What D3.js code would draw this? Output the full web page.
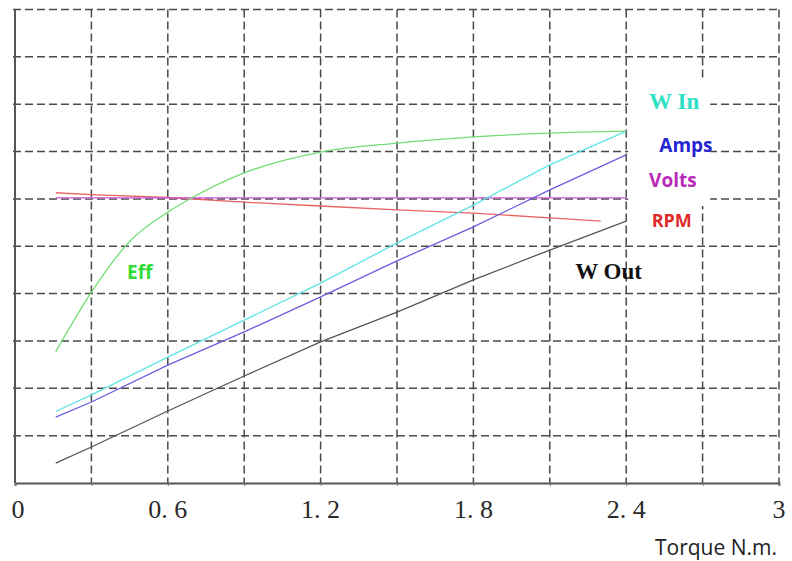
<!DOCTYPE html>
<html>
<head>
<meta charset="utf-8">
<script src="https://cdn.jsdelivr.net/npm/d3@7"></script>
<style>
  body { margin: 0; background: #fff; }
  svg { display: block; }
  .grid line { stroke: #4a4a4a; stroke-width: 1.5; stroke-dasharray: 8 4; }
  .tick-label { font-family: 'Liberation Serif', serif; font-size: 26px; fill: #2a2a2a; white-space: pre; }
  .series { fill: none; stroke-width: 1.3; }
</style>
</head>
<body>
<svg width="792" height="561"></svg>
<script>
// torque values (N.m) and curves in grid units (no y labels on the chart)
const torque = [0.16, 0.3, 0.6, 0.9, 1.2, 1.5, 1.8, 2.1, 2.4];
const wIn = [1.51, 1.86, 2.66, 3.44, 4.22, 5.07, 5.87, 6.72, 7.43];
const amps = [1.39, 1.71, 2.49, 3.19, 3.93, 4.69, 5.41, 6.19, 6.93];
const volts = [6.02, 6.02, 6.02, 6.02, 6.02, 6.02, 6.02, 6.02, 6.02];
const wOut = [0.42, 0.76, 1.52, 2.26, 2.98, 3.61, 4.29, 4.92, 5.53];
const rpmTorque = [0.16, 0.3, 0.6, 0.9, 1.2, 1.5, 1.8, 2.1, 2.3];
const rpm = [6.13, 6.09, 6.03, 5.93, 5.85, 5.77, 5.7, 5.6, 5.53];
const effTorque = [0.16, 0.3, 0.45, 0.6, 0.7, 0.9, 1.2, 1.5, 1.8, 2.1, 2.4];
const eff = [2.77, 4.03, 5.1, 5.72, 6.04, 6.55, 6.99, 7.18, 7.31, 7.39, 7.43];
const xTicks = [0, 0.6, 1.2, 1.8, 2.4, 3];
const xTickLabels = ['0', '0. 6', '1. 2', '1. 8', '2. 4', '3'];

const margin = { top: 9.5, right: 13, bottom: 78, left: 15 },
  width = 792 - margin.left - margin.right,
  height = 561 - margin.top - margin.bottom;

const svg = d3
  .select('svg')
  .append('g')
  .attr('transform', 'translate(' + margin.left + ',' + margin.top + ')');

const xScale = d3.scaleLinear().domain([0, 3]).range([0, width]);
const yScale = d3.scaleLinear().domain([0, 10]).range([height, 0]);

// dashed grid
svg
  .append('g')
  .attr('class', 'grid')
  .selectAll('line')
  .data(d3.range(1, 11).map(i => i * 0.3))
  .enter()
  .append('line')
  .attr('x1', d => xScale(d))
  .attr('x2', d => xScale(d))
  .attr('y1', 0)
  .attr('y2', height);

svg
  .append('g')
  .attr('class', 'grid')
  .selectAll('line')
  .data(d3.range(1, 11))
  .enter()
  .append('line')
  .attr('x1', -2)
  .attr('x2', width)
  .attr('y1', d => yScale(d))
  .attr('y2', d => yScale(d));

// white patch behind the right-hand labels
svg
  .append('rect')
  .attr('x', xScale(2.4) + 2)
  .attr('y', yScale(8.5))
  .attr('width', xScale(2.73) - xScale(2.4) - 2)
  .attr('height', yScale(5.85) - yScale(8.5))
  .attr('fill', '#fff');

// axes
svg
  .append('g')
  .attr('transform', 'translate(0,' + height + ')')
  .call(
    d3
      .axisBottom(xScale)
      .tickValues(d3.range(0, 11).map(i => i * 0.3))
      .tickSize(3)
      .tickFormat('')
  )
  .call(g => g.select('.domain').attr('stroke', '#555').attr('stroke-width', 2))
  .call(g => g.selectAll('.tick line').attr('stroke', '#777'));

svg
  .append('line')
  .attr('x1', 0)
  .attr('x2', 0)
  .attr('y1', 0)
  .attr('y2', height)
  .attr('stroke', '#555')
  .attr('stroke-width', 2);

svg
  .selectAll('.tick-label')
  .data(xTicks)
  .enter()
  .append('text')
  .attr('class', 'tick-label')
  .attr('x', (d, i) => xScale(d) + (i === 0 ? 3 : 0))
  .attr('y', height + 35)
  .attr('text-anchor', 'middle')
  .text((d, i) => xTickLabels[i]);

svg
  .append('text')
  .attr('x', width - 2)
  .attr('y', height + 72)
  .attr('text-anchor', 'end')
  .style('font-family', "'Open Sans', sans-serif")
  .style('font-size', '21px')
  .style('fill', '#222')
  .text('Torque N.m.');

// series
const line = (xs, ys, curve) =>
  d3
    .line()
    .x((d, i) => xScale(xs[i]))
    .y(d => yScale(d))
    .curve(curve || d3.curveLinear)(ys);

const series = [
  { xs: torque, ys: wOut, color: '#555' },
  { xs: rpmTorque, ys: rpm, color: '#e86464' },
  { xs: torque, ys: volts, color: '#cc55dd' },
  { xs: torque, ys: amps, color: '#6a5ee0' },
  { xs: torque, ys: wIn, color: '#5ee4e4' },
  { xs: effTorque, ys: eff, color: '#74dc74', curve: d3.curveMonotoneX }
];

svg
  .selectAll('.series')
  .data(series)
  .enter()
  .append('path')
  .attr('class', 'series')
  .attr('stroke', d => d.color)
  .attr('d', d => line(d.xs, d.ys, d.curve));

// labels
const labels = [
  { text: 'W In', x: 2.49, y: 7.9, color: '#2ee0c4', font: "'Liberation Serif', serif", size: 23 },
  { text: 'Amps', x: 2.53, y: 7.0, color: '#2424d0', font: "'Open Sans', sans-serif", size: 19 },
  { text: 'Volts', x: 2.49, y: 6.25, color: '#b82ab8', font: "'Open Sans', sans-serif", size: 19 },
  { text: 'RPM', x: 2.5, y: 5.4, color: '#e02a2a', font: "'Open Sans', sans-serif", size: 18 },
  { text: 'W Out', x: 2.2, y: 4.3, color: '#111', font: "'Liberation Serif', serif", size: 23 },
  { text: 'Eff', x: 0.44, y: 4.3, color: '#33dd33', font: "'Open Sans', sans-serif", size: 19 }
];

svg
  .selectAll('.label')
  .data(labels)
  .enter()
  .append('text')
  .attr('class', 'label')
  .attr('x', d => xScale(d.x))
  .attr('y', d => yScale(d.y))
  .style('font-family', d => d.font)
  .style('font-size', d => d.size + 'px')
  .style('font-weight', 'bold')
  .style('fill', d => d.color)
  .text(d => d.text);
</script>
</body>
</html>
